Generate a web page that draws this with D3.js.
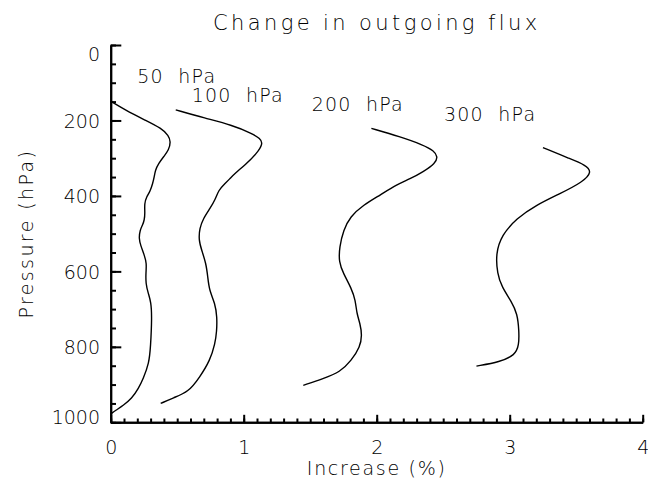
<!DOCTYPE html>
<html>
<head>
<meta charset="utf-8">
<script src="https://cdn.jsdelivr.net/npm/d3@7"></script>
<style>
  body { margin: 0; background: #fff; }
  svg text { font-family: "DejaVu Sans", sans-serif; font-weight: 200; fill: #000; white-space: pre; }
  .axis path, .axis line { stroke: #000; stroke-width: 2; }
  .curve { fill: none; stroke: #000; stroke-width: 1.4; }
</style>
</head>
<body>
<script>
// profiles: pressure level (hPa) and increase (%) for each injection level
var p50 = [149, 172, 199, 221, 240, 256, 279, 295, 314, 332, 349, 367, 389, 402, 420, 446, 464, 477, 491, 513, 531, 557, 579, 601, 632, 659, 681, 721, 800, 844, 884, 911, 937, 955, 968, 978];
var v50 = [0, 0.107, 0.258, 0.383, 0.435, 0.452, 0.436, 0.40, 0.36, 0.335, 0.328, 0.316, 0.295, 0.27, 0.253, 0.258, 0.253, 0.24, 0.22, 0.212, 0.225, 0.253, 0.27, 0.265, 0.263, 0.283, 0.303, 0.31, 0.30, 0.288, 0.245, 0.208, 0.158, 0.095, 0.04, 0];

var p100 = [172, 194, 212, 234, 248, 261, 287, 318, 340, 354, 367, 385, 411, 433, 460, 486, 517, 544, 579, 615, 650, 685, 721, 760, 791, 836, 880, 920, 935, 950];
var v100 = [0.489, 0.709, 0.91, 1.06, 1.125, 1.145, 1.10, 1.01, 0.935, 0.897, 0.86, 0.81, 0.785, 0.747, 0.696, 0.668, 0.662, 0.684, 0.717, 0.73, 0.741, 0.785, 0.80, 0.797, 0.785, 0.747, 0.67, 0.584, 0.47, 0.376];

var p200 = [221, 243, 265, 280, 296, 314, 336, 355, 370, 398, 424, 455, 491, 535, 575, 606, 645, 676, 712, 738, 769, 800, 836, 867, 884, 902];
var v200 = [1.96, 2.175, 2.35, 2.43, 2.46, 2.44, 2.35, 2.25, 2.15, 2.025, 1.90, 1.80, 1.75, 1.72, 1.715, 1.75, 1.81, 1.84, 1.85, 1.875, 1.89, 1.875, 1.81, 1.724, 1.60, 1.448];

var p300 = [272, 301, 318, 336, 363, 394, 424, 460, 504, 553, 606, 641, 681, 712, 756, 796, 822, 840, 851];
var v300 = [3.25, 3.45, 3.57, 3.62, 3.55, 3.378, 3.20, 3.05, 2.94, 2.895, 2.907, 2.94, 3.015, 3.057, 3.07, 3.07, 3.04, 2.927, 2.75];

var labels = ["50  hPa", "100  hPa", "200  hPa", "300  hPa"];
var labelX = [0.2, 0.609, 1.511, 2.506];
var labelP = [102, 150, 174, 202];

var xTicks = [0, 1, 2, 3, 4];
var yTicks = [0, 200, 400, 600, 800, 1000];

var margin = {top: 45, right: 5.3, bottom: 62.7, left: 110.7},
    width = 648 - margin.left - margin.right,
    height = 485 - margin.top - margin.bottom;

var x = d3.scaleLinear().domain([0, 4]).range([0, width]),
    y = d3.scaleLinear().domain([0, 1000]).range([0, height]);

var svg = d3.select("body").append("svg")
  .attr("width", 648)
  .attr("height", 485)
  .append("g")
  .attr("transform", "translate(" + margin.left + "," + margin.top + ")");

// minor ticks
svg.append("g")
    .attr("class", "axis")
    .attr("transform", "translate(0," + height + ")")
    .call(d3.axisBottom(x).tickValues(d3.range(0, 41).map(function(i) { return i / 10; }))
      .tickFormat("").tickSizeInner(-3.8).tickSizeOuter(0));
svg.append("g")
    .attr("class", "axis")
    .call(d3.axisLeft(y).tickValues(d3.range(0, 21).map(function(i) { return i * 50; }))
      .tickFormat("").tickSizeInner(-5.3).tickSizeOuter(0));

// major ticks + labels
var xAxis = svg.append("g")
    .attr("class", "axis")
    .attr("transform", "translate(0," + height + ")")
    .call(d3.axisBottom(x).tickValues(xTicks).tickFormat(d3.format("d"))
      .tickSizeInner(-7.5).tickSizeOuter(0));
xAxis.selectAll("text")
    .attr("y", 32).attr("dy", null)
    .style("font-size", "19px");

var yAxis = svg.append("g")
    .attr("class", "axis")
    .call(d3.axisLeft(y).tickValues(yTicks).tickFormat(d3.format("d"))
      .tickSizeInner(-10.6).tickSizeOuter(0));
yAxis.selectAll("text")
    .attr("x", -10.7)
    .attr("dy", function(d) { return d == 0 ? "0.8em" : d == 1000 ? "0.05em" : "0.36em"; })
    .style("font-size", "19px");

svg.selectAll(".axis text").attr("fill", "#000");

var line = d3.line()
    .x(function(d) { return x(d[0]); })
    .y(function(d) { return y(d[1]); })
    .curve(d3.curveBasis);

var series = [[v50, p50], [v100, p100], [v200, p200], [v300, p300]];
svg.selectAll(".curve")
    .data(series)
    .enter()
    .append("path")
    .attr("class", "curve")
    .attr("d", function(s) { return line(s[0].map(function(v, i) { return [v, s[1][i]]; })); });

svg.selectAll(".lab")
    .data(labels)
    .enter()
    .append("text")
    .attr("class", "lab")
    .attr("x", function(d, i) { return x(labelX[i]); })
    .attr("y", function(d, i) { return y(labelP[i]); })
    .style("font-size", "19px")
    .style("letter-spacing", "1.2px")
    .text(function(d) { return d; });

// titles
svg.append("text")
    .attr("x", width / 2)
    .attr("y", -15)
    .attr("text-anchor", "middle")
    .style("font-size", "21px")
    .style("letter-spacing", "3.4px")
    .text("Change in outgoing flux");

svg.append("text")
    .attr("x", width / 2)
    .attr("y", height + 53)
    .attr("text-anchor", "middle")
    .style("font-size", "19px")
    .style("letter-spacing", "1.7px")
    .text("Increase (%)");

svg.append("text")
    .attr("transform", "translate(" + (33 - margin.left) + "," + (height / 2) + ") rotate(-90)")
    .attr("text-anchor", "middle")
    .style("font-size", "19px")
    .style("letter-spacing", "2.4px")
    .text("Pressure (hPa)");
</script>
</body>
</html>
